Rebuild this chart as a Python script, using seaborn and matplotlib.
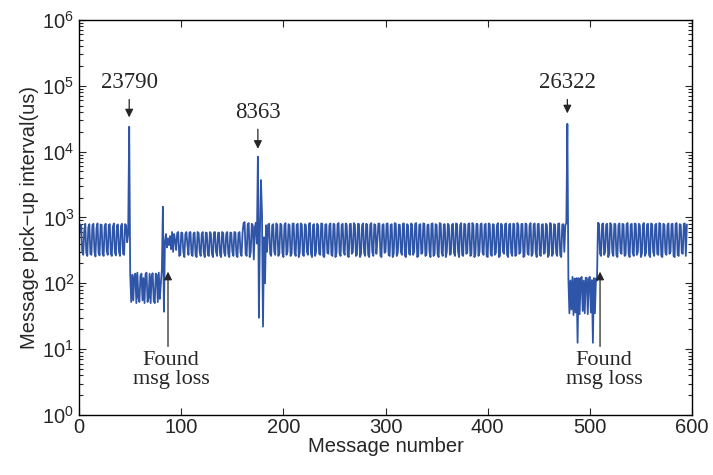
import numpy as np
import pandas as pd
import seaborn as sns
import matplotlib.pyplot as plt
from matplotlib.ticker import NullFormatter

# pick-up interval (us) per message
seg_start = [520, 780, 760, 300, 270, 620, 800, 290, 260, 710,
             790, 280, 270, 760, 800, 300, 255, 690, 810, 290,
             265, 780, 770, 280, 260, 740, 800, 310, 270, 770,
             790, 280, 260, 720, 810, 290, 265, 760, 780, 300,
             260, 750, 800, 280, 270, 790, 760, 420, 560]
peak_1 = [23790]
loss_1 = [140, 52, 135, 55, 130, 140, 50, 145, 60, 52,
          130, 140, 55, 120, 50, 138, 145, 52, 60, 140,
          50, 130, 142, 55, 50, 140, 135, 52, 145, 58, 100]
recover_1 = [160, 1450, 37, 420]
seg_mid = [560, 350, 480, 380, 520, 330, 600, 300, 560, 450, 320, 580, 600, 260, 270, 590, 580, 300, 250, 560,
           600, 380, 270, 590, 600, 280, 260, 570, 590, 270, 250, 600, 580, 300, 260, 560, 600, 290, 250, 590,
           580, 270, 260, 600, 570, 280, 250, 590, 600, 300, 260, 580, 590, 270, 250, 600, 580, 290, 260, 570,
           600, 280, 250, 590, 580, 300, 260, 600, 590, 270, 250, 580, 600, 290, 260, 590]
ramp = [820, 850, 280, 260, 780, 820, 250, 300, 800, 760, 230, 700, 830, 400]
peak_2 = [8363]
after_2 = [30, 600, 3700, 1170, 22, 500, 100, 760, 300]
seg_long = [780, 800, 280, 260, 760, 790, 300, 270, 810, 770, 260, 280, 800, 780, 290, 250, 760, 820, 270, 300,
            790, 760, 260, 280, 800, 810, 290, 260, 770, 800, 250, 290, 810, 780, 270, 260, 790, 760, 300, 270,
            800, 820, 280, 250, 770, 790, 260, 300, 800, 760, 280, 270, 810, 800, 260, 250, 780, 790, 290, 280,
            760, 810, 270, 260, 800, 780, 250, 290, 790, 820, 280, 260, 770, 800, 300, 270, 810, 760, 260, 250,
            790, 800, 280, 300, 820, 770, 260, 270, 800, 790, 250, 280, 760, 810, 290, 260, 800, 780, 270, 250,
            780, 820, 300, 260, 790, 760, 280, 450, 810, 800, 260, 250, 770, 790, 290, 300, 800, 810, 270, 260,
            760, 790, 250, 280, 820, 800, 260, 290, 780, 770, 300, 270, 800, 810, 260, 250, 790, 760, 280, 270,
            810, 780, 270, 300, 800, 820, 250, 260, 770, 790, 280, 290, 810, 800, 260, 270, 760, 780, 300, 250,
            800, 810, 260, 280, 790, 770, 270, 250, 820, 800, 290, 260, 780, 790, 250, 300, 800, 760, 270, 280,
            770, 800, 290, 260, 810, 790, 300, 250, 760, 820, 270, 260, 800, 780, 280, 290, 790, 810, 260, 270,
            820, 760, 250, 280, 800, 790, 260, 300, 780, 810, 290, 270, 770, 800, 260, 250, 810, 790, 280, 260,
            790, 780, 270, 290, 760, 820, 250, 260, 800, 770, 300, 280, 790, 810, 270, 250, 780, 800, 290, 260,
            800, 790, 260, 270, 820, 760, 280, 300, 790, 800, 250, 260, 810, 780, 290, 270, 760, 820, 260, 280,
            780, 810, 300, 250, 790, 800, 270, 260, 770, 790, 280, 290, 800, 760, 250, 270, 820, 800, 260, 280,
            790, 770, 290, 260, 800, 810, 270, 250, 780, 790, 300, 760, 820]
peak_3 = [26322]
loss_2 = [120, 35, 110, 40, 125, 33, 118, 36, 120, 12.5,
          120, 34, 115, 125, 38, 110, 35, 122, 120, 34,
          118, 125, 36, 112, 12.5, 120, 35, 118, 110]
seg_end = [830, 800, 280, 260, 790, 810, 270, 300, 780, 800, 250, 280, 820, 770, 290, 260, 800, 790, 270, 250,
           760, 810, 300, 280, 800, 780, 260, 270, 790, 820, 280, 250, 770, 800, 290, 260, 810, 790, 270, 300,
           800, 760, 250, 280, 790, 820, 260, 290, 780, 800, 270, 250, 810, 790, 300, 260, 770, 800, 280, 270,
           820, 790, 260, 250, 800, 780, 290, 270, 760, 810, 280, 300, 790, 800, 260, 250, 800, 820, 270, 260,
           790, 770, 290, 280, 800, 810, 260, 780]

interval = (seg_start + peak_1 + loss_1 + recover_1 + seg_mid + ramp + peak_2
            + after_2 + seg_long + peak_3 + loss_2 + seg_end)
df = pd.DataFrame({'msg': np.arange(len(interval)), 'interval': interval})

# (label, peak msg, text y, arrow tip y)
peak_notes = [('23790', 49, 1.1e5, 3.3e4),
              ('8363', 175, 3.9e4, 1.1e4),
              ('26322', 478, 1.1e5, 3.8e4)]
# (arrow x, text x)
loss_notes = [(87, 90), (510, 514)]

sns.set_style('ticks')
plt.rcParams['font.family'] = ['Liberation Sans', 'DejaVu Sans']
plt.rcParams['mathtext.default'] = 'regular'

fig = plt.figure(figsize=(7.13, 4.75), dpi=100)
ax = fig.add_axes([0.111, 0.1263, 0.8595, 0.832])

sns.lineplot(data=df, x='msg', y='interval', ax=ax, color='#2f55a8', lw=1.3)
ax.set_yscale('log')
ax.set_xlim(0, 600)
ax.set_ylim(1, 1e6)
ax.set_xticks(range(0, 601, 100))
ax.set_yticks([10.0 ** e for e in range(7)])
# minor ticks only inside the visible decades
ax.set_yticks([k * 10.0 ** e for e in range(6) for k in range(2, 10)], minor=True)
ax.yaxis.set_minor_formatter(NullFormatter())
ax.set_xlabel('Message number', fontsize=14.5, labelpad=0)
ax.set_ylabel('Message pick\u2212up interval(us)', fontsize=14.5, labelpad=2)
ax.tick_params(axis='both', which='both', direction='in', top=True, right=True,
               labelsize=14.5, width=0.8)
ax.tick_params(axis='x', pad=2)
ax.tick_params(which='major', length=5)
ax.tick_params(which='minor', length=3)
for s in ax.spines.values():
    s.set_linewidth(1.0)
    s.set_color('k')

serif = ['Liberation Serif', 'DejaVu Serif']
for label, x, ty, tip in peak_notes:
    ax.annotate(label, xy=(x, tip), xytext=(x, ty), ha='center', va='center',
                fontsize=16.5, family=serif,
                arrowprops=dict(arrowstyle='-|>', color='0.15', lw=0.9,
                                mutation_scale=12, shrinkA=2, shrinkB=0))

for ax_x, tx in loss_notes:
    ax.annotate('', xy=(ax_x, 150), xytext=(ax_x, 11),
                arrowprops=dict(arrowstyle='-|>', color='0.15', lw=0.9,
                                mutation_scale=12, shrinkA=0, shrinkB=0))
    ax.text(tx, 4.8, 'Found\nmsg loss', ha='center', va='center', fontsize=16,
            family=serif, linespacing=0.95)

plt.savefig('out.png', dpi=100)
